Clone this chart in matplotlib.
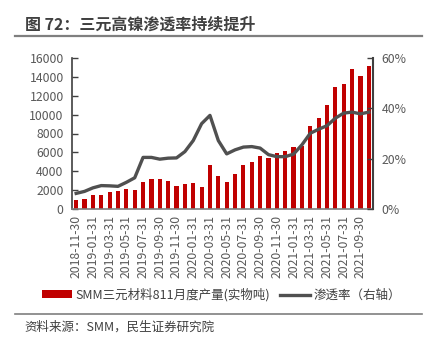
import matplotlib
matplotlib.use("Agg")
import matplotlib.pyplot as plt
import numpy as np
import pandas as pd
from matplotlib.patches import Patch
from matplotlib.lines import Line2D
from matplotlib.ticker import FuncFormatter

plt.rcParams['font.family'] = ['Noto Sans CJK SC', 'DejaVu Sans']

dates = pd.date_range("2018-11-30", periods=36, freq="ME")
date_labels = [d.strftime("%Y-%m-%d") for d in dates]

production = [950, 1060, 1480, 1490, 1800, 1900, 2170, 1970, 2900, 3210, 3210, 2960,
              2440, 2640, 2720, 2330, 4700, 3490, 2900, 3720, 4650, 4960, 5660, 5450,
              5910, 6190, 6550, 6690, 8780, 9630, 10970, 12880, 13240, 14870, 14120, 15120]
penetration = [6.2, 7.0, 8.4, 9.3, 9.2, 9.0, 10.6, 12.4, 20.5, 20.5, 19.8, 20.2,
               20.3, 22.8, 27.2, 33.9, 37.2, 27.2, 21.9, 23.5, 24.6, 24.8, 24.2, 21.6,
               20.8, 20.8, 21.8, 25.5, 30.1, 31.7, 33.1, 36.1, 38.1, 38.5, 37.8, 38.5]

bar_label = "SMM三元材料811月度产量(实物吨)"
line_label = "渗透率（右轴）"
title = "图 72：三元高镍渗透率持续提升"
source = "资料来源：SMM，民生证券研究院"

W, H = 433, 356
fig = plt.figure(figsize=(W/100, H/100), dpi=100)

L, R, T, B = 72, 373, 58, 209
ax = fig.add_axes([L/W, 1 - B/H, (R-L)/W, (B-T)/H])
x = np.arange(len(production))
ax.bar(x, production, width=0.5, color="#C00000", zorder=2)
ax.set_xlim(-0.5, len(x) - 0.5)
ax.set_ylim(0, 16000)
ax.set_yticks(np.arange(0, 16001, 2000))
ax.set_xticks(x[::2])
ax.set_xticklabels(date_labels[::2], rotation=90, fontsize=8.8, color="#595959")
ax.tick_params(axis='y', direction='in', length=4, width=1, colors="#404040",
               labelcolor="#595959", labelsize=8.8, pad=6)
ax.tick_params(axis='x', length=0, pad=4)
for s in ["top", "right"]:
    ax.spines[s].set_visible(False)
ax.spines["left"].set_color("#404040")
ax.spines["left"].set_linewidth(1.2)
ax.spines["bottom"].set_color("#7f7f7f")
ax.spines["bottom"].set_linewidth(1.2)

ax2 = ax.twinx()
ax2.plot(x, penetration, color="#505050", lw=2.4, solid_joinstyle="round", zorder=3)
ax2.set_ylim(0, 60)
ax2.set_yticks([0, 20, 40, 60])
ax2.yaxis.set_major_formatter(FuncFormatter(lambda v, p: f"{int(v)}%"))
ax2.tick_params(axis='y', direction='in', length=4, width=1, colors="#404040",
                labelcolor="#595959", labelsize=8.8, pad=6)
for s in ["top", "left", "bottom"]:
    ax2.spines[s].set_visible(False)
ax2.spines["right"].set_color("#404040")
ax2.spines["right"].set_linewidth(1.5)

# title and rules
fig.text(25/W, 1 - 25/H, title, fontsize=11.5, fontweight="bold", color="#404040",
         ha="left", va="center")
fig.add_artist(Line2D([15/W, 422/W], [1 - 36/H, 1 - 36/H], color="#7f7f7f", lw=1.6))
fig.add_artist(Line2D([15/W, 422/W], [1 - 314/H, 1 - 314/H], color="#7f7f7f", lw=1.2))
fig.text(24/W, 1 - 327/H, source, fontsize=9, color="#404040", ha="left", va="center")

handles = [Patch(facecolor="#C00000", edgecolor="none"),
           Line2D([0], [0], color="#505050", lw=2.4)]
fig.legend(handles, [bar_label, line_label], loc="center", bbox_to_anchor=(221.5/W, 1 - 295/H),
           ncol=2, frameon=False, fontsize=9, handlelength=2.4, handleheight=0.6,
           handletextpad=0.3, columnspacing=0.8, labelcolor="#404040")

fig.savefig("out.png", dpi=100)
